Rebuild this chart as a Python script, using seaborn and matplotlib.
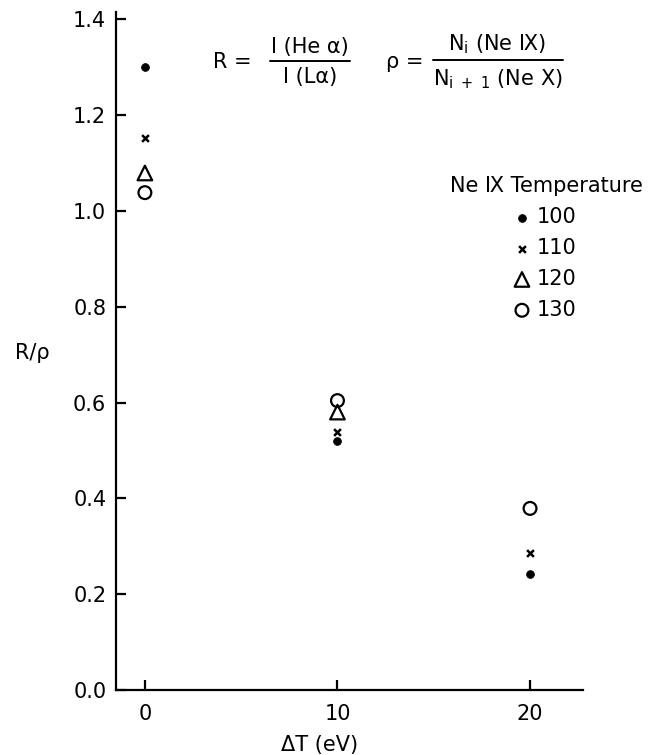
import matplotlib
matplotlib.use('Agg')
import matplotlib.pyplot as plt
from matplotlib.lines import Line2D
import numpy as np
import pandas as pd
import seaborn as sns

# data
delta_t = [0, 10, 20]
temps = [100, 110, 120, 130]
r_100 = [1.300, 0.520, 0.242]
r_110 = [1.152, 0.538, 0.285]
r_120 = [1.079, 0.580, np.nan]
r_130 = [1.038, 0.604, 0.379]

sns.set_theme(style='ticks')
plt.rcParams['font.family'] = ['DejaVu Sans']
plt.rcParams['mathtext.fontset'] = 'dejavusans'
plt.rcParams['text.color'] = 'black'
plt.rcParams['axes.labelcolor'] = 'black'

W, H = 649, 755
fig = plt.figure(figsize=(W / 100, H / 100), dpi=100)
ax = fig.add_axes([116 / W, 1 - 690 / H, (583 - 116) / W, (690 - 12) / H])

def fx(px):
    return px / W

def fy(py):
    return 1 - py / H

styles = {
    100: dict(marker='o', s=32, color='black', edgecolor='black', linewidth=0.5),
    110: dict(marker='x', s=24, color='black', linewidth=1.8),
    120: dict(marker='^', s=110, facecolor='none', edgecolor='black', linewidth=1.6),
    130: dict(marker='o', s=85, facecolor='none', edgecolor='black', linewidth=1.6),
}

for t, vals in zip(temps, [r_100, r_110, r_120, r_130]):
    df = pd.DataFrame({'dT': delta_t, 'R': vals}).dropna()
    sns.scatterplot(data=df, x='dT', y='R', ax=ax, label=str(t), **styles[t])

ax.set_xlim(-1.5, 22.75)
ax.set_ylim(0, 1.415)
ax.set_xticks([0, 10, 20])
ax.set_yticks(np.arange(0, 1.41, 0.2))
ax.yaxis.set_major_formatter(matplotlib.ticker.FormatStrFormatter('%.1f'))
sns.despine(ax=ax)
for sp in ['left', 'bottom']:
    ax.spines[sp].set_linewidth(1.6)
    ax.spines[sp].set_color('black')
ax.tick_params(axis='both', direction='in', length=7, width=1.6, colors='black', labelsize=15)
ax.tick_params(axis='y', pad=7)
ax.tick_params(axis='x', pad=10)

fs = 15
ax.set_xlabel('ΔT (eV)', fontsize=fs)
ax.xaxis.label.set_va('center')
ax.xaxis.set_label_coords((320 - 116) / 467, -(745 - 690) / 678)
ax.set_ylabel('R/ρ', fontsize=fs, rotation=0)
ax.yaxis.label.set_va('center')
ax.yaxis.label.set_ha('center')
ax.yaxis.set_label_coords((32 - 116) / 467, (690 - 353) / 678)

leg = ax.legend(title='Ne Ⅸ Temperature', loc='upper center',
                bbox_to_anchor=(fx(546), fy(166)), bbox_transform=fig.transFigure,
                frameon=False, fontsize=fs, title_fontsize=fs,
                handlelength=0.6, handletextpad=0.4, labelspacing=0.52,
                borderpad=0)

# formulas
fig.text(fx(232), fy(62), 'R =', fontsize=fs, ha='center', va='center')
fig.text(fx(310), fy(47), 'I (He α)', fontsize=fs, ha='center', va='center')
fig.text(fx(310), fy(77), 'I (Lα)', fontsize=fs, ha='center', va='center')
fig.add_artist(Line2D([fx(270), fx(350)], [fy(61), fy(61)], transform=fig.transFigure,
                      color='black', lw=1.4))
fig.text(fx(405), fy(62), 'ρ =', fontsize=fs, ha='center', va='center')
fig.text(fx(497), fy(44), r'N$_\mathregular{i}$ (Ne Ⅸ)', fontsize=fs, ha='center', va='center')
fig.text(fx(498), fy(79), r'N$_\mathregular{i\ +\ 1}$ (Ne Ⅹ)', fontsize=fs, ha='center', va='center')
fig.add_artist(Line2D([fx(433), fx(563)], [fy(60), fy(60)], transform=fig.transFigure,
                      color='black', lw=1.4))

fig.savefig('out.png', dpi=100)
